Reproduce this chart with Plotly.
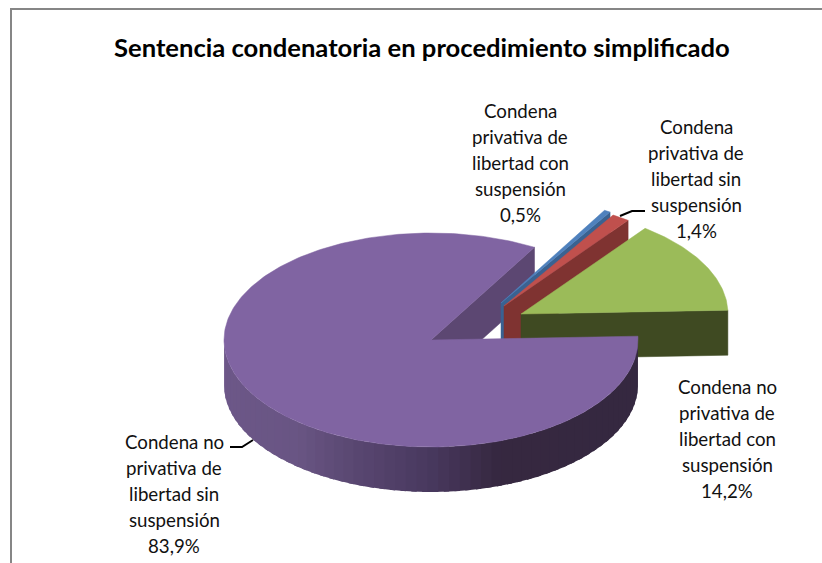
import math
import plotly.graph_objects as go

# ---- data ----
categories = [
    "Condena privativa de libertad con suspensión",
    "Condena privativa de libertad sin suspensión",
    "Condena no privativa de libertad con suspensión",
    "Condena no privativa de libertad sin suspensión",
]
percent_labels = ["0,5%", "1,4%", "14,2%", "83,9%"]
values = [0.5, 1.4, 14.2, 83.9]
title_text = "Sentencia condenatoria en procedimiento simplificado"
label_lines = [
    ["Condena", "privativa de", "libertad con", "suspensión"],
    ["Condena", "privativa de", "libertad sin", "suspensión"],
    ["Condena no", "privativa de", "libertad con", "suspensión"],
    ["Condena no", "privativa de", "libertad sin", "suspensión"],
]

# ---- style / layout ----
W, H = 822, 563
FIRST_ANGLE = 30.0
RX, RY, DEPTH = 207, 107, 45
centers = [(501, 303), (504, 306), (521, 314), (431, 340)]
top_colors = ["#4f81bd", "#c0504d", "#9bbb59", "#8064a2"]
face_colors = ["#3a6291", "#7f3331", "#3f4a22", "#5c4772"]
label_pos = [(520, 111), (696, 127), (727, 387), (174, 442)]
LINE_GAP = 26
LABEL_FONT = dict(family="Lato, Carlito, sans-serif", size=18.7, color="#111111")
TITLE_FONT = dict(family="Lato, sans-serif", size=25.6, color="#000000")


def pt(c, a, dz=0):
    rad = math.radians(a)
    return c[0] + RX * math.sin(rad), c[1] - RY * math.cos(rad) + dz


def poly(points, color, lw=0.0):
    xs = [p[0] for p in points] + [points[0][0]]
    ys = [p[1] for p in points] + [points[0][1]]
    return go.Scatter(x=xs, y=ys, mode="lines", fill="toself", fillcolor=color,
                      line=dict(width=lw, color=color), hoverinfo="skip", showlegend=False)


def arc(c, a1, a2, dz=0, step=1.0):
    n = max(2, int(abs(a2 - a1) / step) + 1)
    return [pt(c, a1 + (a2 - a1) * i / (n - 1), dz=dz) for i in range(n)]


def rim_color(a):
    # a is the clockwise angle from north: right side (90) .. left side (270)
    stops = [(80, (52, 40, 64)), (161, (54, 40, 64)), (180, (72, 56, 94)),
             (200, (88, 70, 112)), (220, (105, 85, 132)), (275, (110, 88, 138))]
    for (a0, c0), (a1, c1) in zip(stops, stops[1:]):
        if a0 <= a <= a1:
            t = (a - a0) / (a1 - a0)
            return "rgb(%d,%d,%d)" % tuple(round(u + (v - u) * t) for u, v in zip(c0, c1))
    return "rgb(110,88,138)"


fig = go.Figure()
angle = FIRST_ANGLE
spans = []
for v in values:
    sweep = v / sum(values) * 360
    spans.append((angle, angle + sweep))
    angle += sweep


def cut_face(i):
    c = centers[i]
    o = pt(c, spans[i][1])
    return poly([c, o, (o[0], o[1] + DEPTH), (c[0], c[1] + DEPTH)], face_colors[i], 0.5)


# the large slice's cut face lies behind the small slices
fig.add_trace(cut_face(3))
for i in range(3):
    fig.add_trace(cut_face(i))
    fig.add_trace(poly([centers[i]] + arc(centers[i], *spans[i]), top_colors[i], 0.5))

# rim of the large slice, shaded strip by strip (each strip overlaps the next)
c = centers[3]
a1, a2 = spans[3]
s, rim_end = a1, min(a2, 270.0)
while s < rim_end:
    e = min(s + 3, rim_end)
    strip = arc(c, s, e + 1.5, 0, 0.5) + arc(c, e + 1.5, s, DEPTH, 0.5)
    fig.add_trace(poly(strip, rim_color((s + e) / 2)))
    s = e
fig.add_trace(poly([c] + arc(c, a1, a2), top_colors[3], 0.5))

# leader lines
leaders = [
    ([620, 632, 645], [216, 211, 211]),
    ([253, 242, 230], [440, 447, 447]),
]
for lx, ly in leaders:
    fig.add_trace(go.Scatter(x=lx, y=ly, mode="lines", line=dict(color="#000000", width=2),
                             hoverinfo="skip", showlegend=False))

ann = [dict(x=422, y=47, text="<b>%s</b>" % title_text, showarrow=False, font=TITLE_FONT,
            xanchor="center", yanchor="middle")]
for i, lines in enumerate(label_lines):
    x, y = label_pos[i]
    for k, t in enumerate(lines + [percent_labels[i]]):
        ann.append(dict(x=x, y=y + k * LINE_GAP, text=t, showarrow=False, font=LABEL_FONT,
                        xanchor="center", yanchor="middle"))

# chart frame
frame = [
    dict(type="line", x0=11, x1=11, y0=9, y1=H, line=dict(color="#868686", width=2)),
    dict(type="line", x0=10, x1=W, y0=9, y1=9, line=dict(color="#868686", width=2)),
]

fig.update_layout(
    width=W, height=H, margin=dict(l=0, r=0, t=0, b=0),
    paper_bgcolor="#ffffff", plot_bgcolor="#ffffff", showlegend=False,
    xaxis=dict(range=[0, W], visible=False, fixedrange=True),
    yaxis=dict(range=[H, 0], visible=False, fixedrange=True),
    annotations=ann, shapes=frame,
)
fig.write_html("out.html", config=dict(displayModeBar=False),
               post_script="document.body.style.margin='0';")
